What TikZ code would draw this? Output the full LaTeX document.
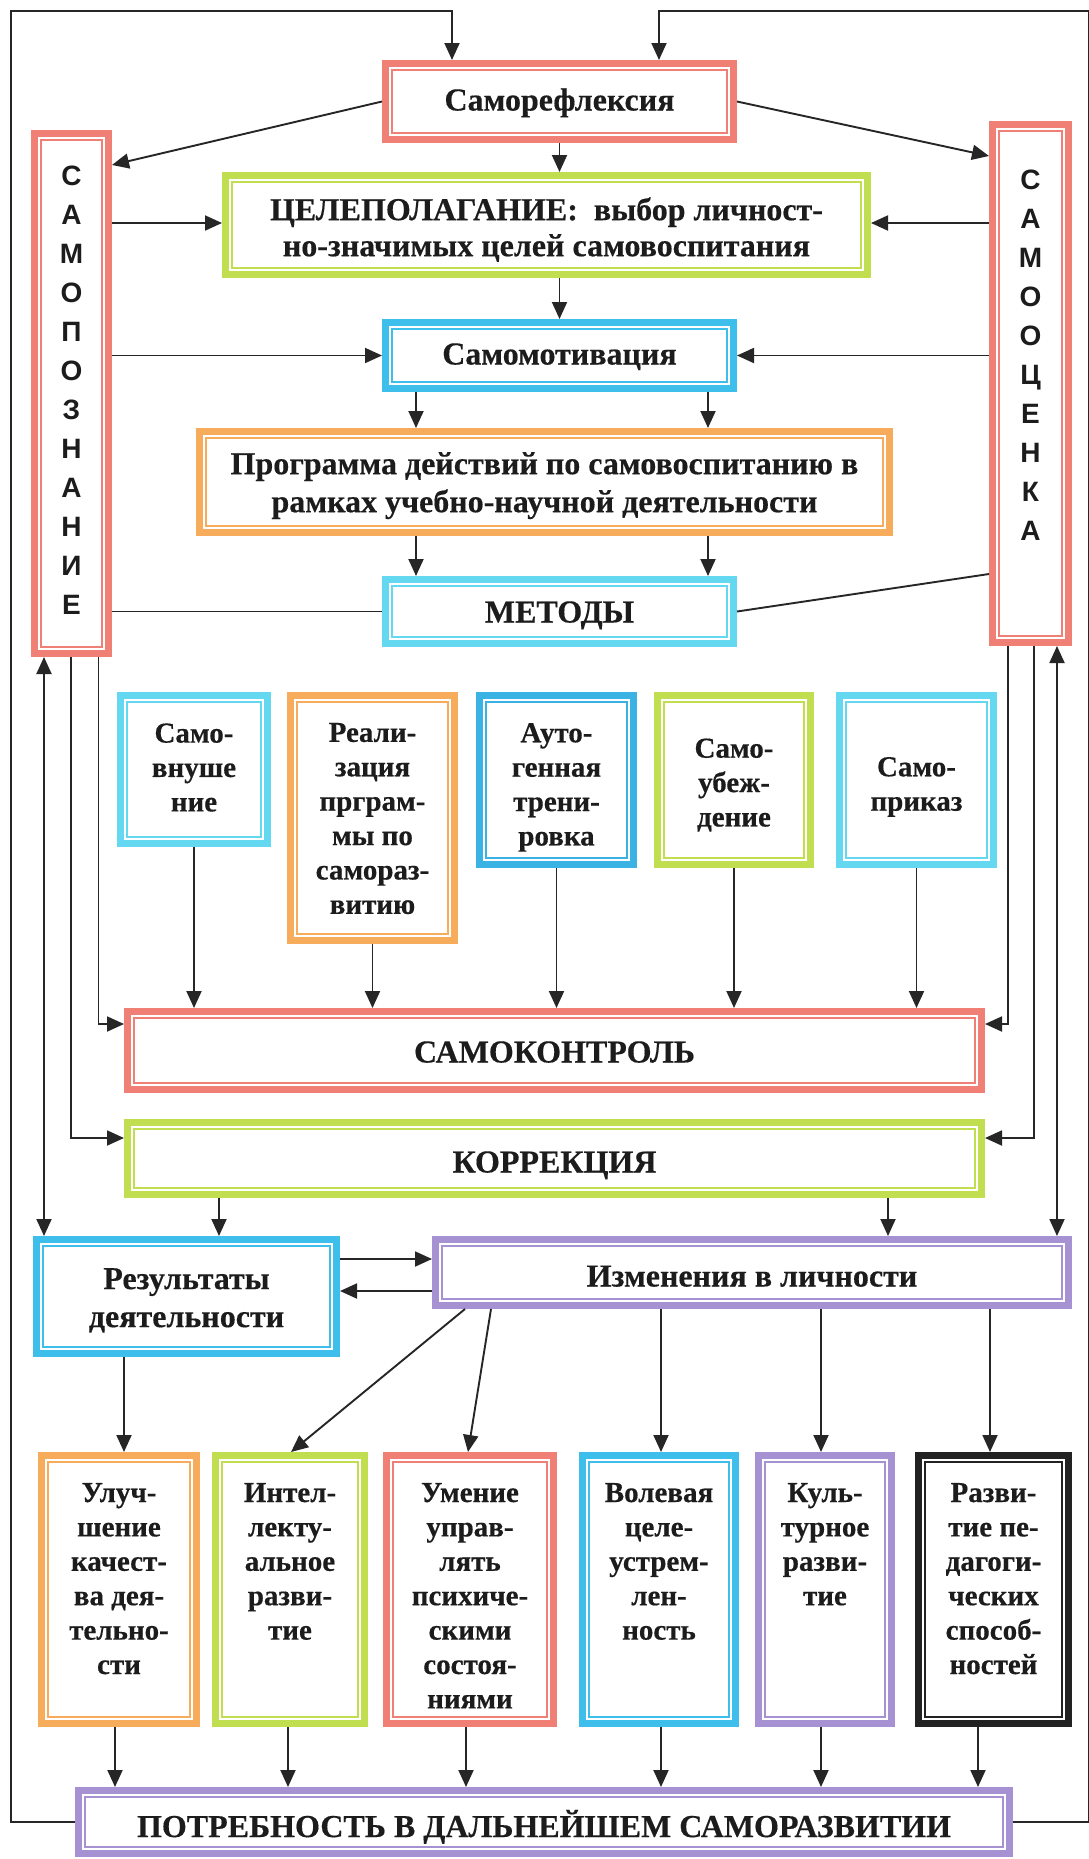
\documentclass[tikz,border=0pt]{standalone}
\usepackage{fontspec}
\setmainfont{Liberation Serif}[BoldFeatures={FakeBold=0.4}]
\newfontfamily\barfont{Liberation Sans}
\usetikzlibrary{arrows.meta}
\definecolor{cSal}{RGB}{240,128,118}
\definecolor{cLime}{RGB}{192,222,80}
\definecolor{cCyan}{RGB}{62,190,234}
\definecolor{cCyanB}{RGB}{58,178,228}
\definecolor{cLcyan}{RGB}{100,216,240}
\definecolor{cOr}{RGB}{247,172,92}
\definecolor{cPur}{RGB}{166,146,210}
\definecolor{cBlk}{RGB}{34,34,34}
\definecolor{lineC}{RGB}{38,38,38}
\definecolor{txtC}{RGB}{28,28,28}
\newlength\px \setlength\px{0.5pt}
\newcommand\mainlbl{\bfseries\fontsize{16}{18.5}\selectfont}
\newcommand\smlbl{\bfseries\fontsize{14.5}{17.2}\selectfont}
\newcommand\tp[3]{\parbox[c][#1][t]{#2}{\centering\vspace*{14pt}#3}}
\tikzset{
  box/.style={draw=none, fill=#1, inner sep=0pt, outer sep=0pt, align=center,
    text=txtC, font=\mainlbl,
    path picture={
      \fill[white] ([shift={(3.5pt,3.5pt)}]path picture bounding box.south west)
        rectangle ([shift={(-3.5pt,-3.5pt)}]path picture bounding box.north east);
      \draw[draw=#1, line width=0.8pt] ([shift={(4.9pt,4.9pt)}]path picture bounding box.south west)
        rectangle ([shift={(-4.9pt,-4.9pt)}]path picture bounding box.north east);
    }},
  ln/.style={draw=lineC, line width=0.95pt},
  ar/.style={ln, -{Triangle[length=8.5pt,width=7.5pt]}},
  dar/.style={ln, {Triangle[length=8.5pt,width=7.5pt]}-{Triangle[length=8.5pt,width=7.5pt]}},
  letters/.style={font=\barfont\bfseries\fontsize{14}{19.5}\selectfont, align=center, inner sep=0pt, text=txtC},
  sm/.style={font=\smlbl}
}
% \bx[opts]{name}{colour}{x1}{y1}{x2}{y2}{raise}{text}
\newcommand\bx[9][]{%
  \node[box=#3, minimum width={(#6-#4)*0.5pt}, minimum height={(#7-#5)*0.5pt}, #1]
    (#2) at ({(#4+#6)/2},{(#5+#7)/2})
    {\raisebox{#8}[\height][\depth]{\begin{tabular}{@{}c@{}}#9\end{tabular}}};}
\begin{document}
\begin{tikzpicture}[x=0.5pt,y=-0.5pt]
\useasboundingbox (0,0) rectangle (1088,1859);
\fill[white] (0,0) rectangle (1088,1859);

% top part
\bx{samoref}{cSal}{382}{60}{737}{143}{-0.8pt}{Саморефлексия}
\bx[font=\bfseries\fontsize{16}{18}\selectfont]{celep}{cLime}{222}{172}{871}{278}{-3pt}{ЦЕЛЕПОЛАГАНИЕ:~~выбор личност-\\но-значимых целей самовоспитания}
\bx{samomot}{cCyan}{382}{319}{737}{392}{-0.8pt}{Самомотивация}
\bx[font=\bfseries\fontsize{16}{19}\selectfont]{prog}{cOr}{196}{428}{893}{536}{-1.8pt}{Программа действий по самовоспитанию в\\рамках учебно-научной деятельности}
\bx{metody}{cLcyan}{382}{576}{737}{647}{-1.8pt}{МЕТОДЫ}
\bx{samop}{cSal}{31}{130}{112}{657}{0pt}{}
\bx{samoc}{cSal}{989}{121}{1072}{646}{0pt}{}
\node[letters] (samopT) at (71.5,390) {С\\А\\М\\О\\П\\О\\З\\Н\\А\\Н\\И\\Е};
\node[letters] (samocT) at (1030.5,355) {С\\А\\М\\О\\О\\Ц\\Е\\Н\\К\\А};

% methods
\bx[sm]{m1}{cLcyan}{117}{692}{271}{847}{-0.3pt}{Само-\\внуше\\ние}
\bx[sm]{m2}{cOr}{287}{692}{458}{944}{-1.5pt}{Реали-\\зация\\прграм-\\мы по\\самораз-\\витию}
\bx[sm]{m3}{cCyanB}{476}{692}{637}{868}{-3.5pt}{Ауто-\\генная\\трени-\\ровка}
\bx[sm]{m4}{cLime}{654}{692}{814}{868}{-2.6pt}{Само-\\убеж-\\дение}
\bx[sm]{m5}{cLcyan}{836}{692}{997}{868}{-3.3pt}{Само-\\приказ}

\bx{samok}{cSal}{124}{1008}{985}{1093}{-2.3pt}{САМОКОНТРОЛЬ}
\bx{korr}{cLime}{124}{1119}{985}{1198}{-3.3pt}{КОРРЕКЦИЯ}
\bx[font=\bfseries\fontsize{16}{19}\selectfont]{rez}{cCyan}{33}{1236}{340}{1357}{-2pt}{Результаты\\деятельности}
\bx{izm}{cPur}{432}{1236}{1072}{1309}{-3.3pt}{Изменения в личности}

% bottom boxes
\bx[sm]{uluch}{cOr}{38}{1452}{200}{1727}{-1.5pt}{\tp{275\px}{140\px}{Улуч-\\шение\\качест-\\ва дея-\\тельно-\\сти}}
\bx[sm]{intel}{cLime}{212}{1452}{368}{1727}{-1.5pt}{\tp{275\px}{134\px}{Интел-\\лекту-\\альное\\разви-\\тие}}
\bx[sm]{umen}{cSal}{383}{1452}{557}{1727}{-1.5pt}{\tp{275\px}{150\px}{Умение\\управ-\\лять\\психиче-\\скими\\состоя-\\ниями}}
\bx[sm]{vol}{cCyan}{579}{1452}{739}{1727}{-1.5pt}{\tp{275\px}{138\px}{Волевая\\целе-\\устрем-\\лен-\\ность}}
\bx[sm]{kult}{cPur}{755}{1452}{895}{1727}{-1.5pt}{\tp{275\px}{120\px}{Куль-\\турное\\разви-\\тие}}
\bx[sm]{razv}{cBlk}{915}{1452}{1072}{1727}{-1.5pt}{\tp{275\px}{135\px}{Разви-\\тие пе-\\дагоги-\\ческих\\способ-\\ностей}}

\bx{potr}{cPur}{75}{1787}{1013}{1857}{-3.5pt}{ПОТРЕБНОСТЬ В ДАЛЬНЕЙШЕМ САМОРАЗВИТИИ}

% feedback loops
\draw[ar] (potr.west) -- (11,1822) -- (11,11) -- (452,11) -- (452,0 |- samoref.north);
\draw[ar] (potr.east) -- (1089,1822) -- (1089,11) -- (659,11) -- (659,0 |- samoref.north);

% top connectors
\draw[ar] (samoref.west) -- (samop.east |- 0,165);
\draw[ar] (samoref.east) -- (samoc.west |- 0,156);
\draw[ar] (samoref.south) -- (samoref.south |- celep.north);
\draw[ar] (samop.east |- 0,223) -- (celep.west |- 0,223);
\draw[ar] (samoc.west |- 0,223) -- (celep.east |- 0,223);
\draw[ar] (samomot.north |- celep.south) -- (samomot.north);
\draw[ar] (samop.east |- samomot.west) -- (samomot.west);
\draw[ar] (samoc.west |- samomot.east) -- (samomot.east);
\foreach \x in {416,708} {
  \draw[ar] (\x,0 |- samomot.south) -- (\x,0 |- prog.north);
  \draw[ar] (\x,0 |- prog.south) -- (\x,0 |- metody.north);
}
\draw[ln] (samop.east |- metody.west) -- (metody.west);
\draw[ln] (samoc.west |- 0,574) -- (metody.east);

% methods to self-control
\foreach \n in {m1,m2,m3,m4,m5}
  \draw[ar] (\n.south) -- (\n.south |- samok.north);

% side lines
\draw[ar] (98.5,0 |- samop.south) -- (98.5,1024) -- (samok.west |- 0,1024);
\draw[ar] (1008,0 |- samoc.south) -- (1008,1024) -- (samok.east |- 0,1024);
\draw[ar] (71,0 |- samop.south) -- (71,1138) -- (korr.west |- 0,1138);
\draw[ar] (1034,0 |- samoc.south) -- (1034,1138) -- (korr.east |- 0,1138);
\draw[dar] (44,0 |- samop.south) -- (44,0 |- rez.north);
\draw[dar] (1057,0 |- samoc.south) -- (1057,0 |- izm.north);

% correction
\draw[ar] (219,0 |- korr.south) -- (219,0 |- rez.north);
\draw[ar] (888,0 |- korr.south) -- (888,0 |- izm.north);
\draw[ar] (rez.east |- 0,1259) -- (izm.west |- 0,1259);
\draw[ar] (izm.west |- 0,1291) -- (rez.east |- 0,1291);

% changes to outcomes
\draw[ar] (465,0 |- izm.south) -- (291,0 |- intel.north);
\draw[ar] (491,0 |- izm.south) -- (468,0 |- umen.north);
\foreach \x/\n in {661/vol, 821/kult, 990/razv}
  \draw[ar] (\x,0 |- izm.south) -- (\x,0 |- \n.north);
\draw[ar] (124,0 |- rez.south) -- (124,0 |- uluch.north);
\foreach \x/\n in {115/uluch,288/intel,466/umen,661/vol,821/kult,978/razv}
  \draw[ar] (\x,0 |- \n.south) -- (\x,0 |- potr.north);
\end{tikzpicture}
\end{document}
